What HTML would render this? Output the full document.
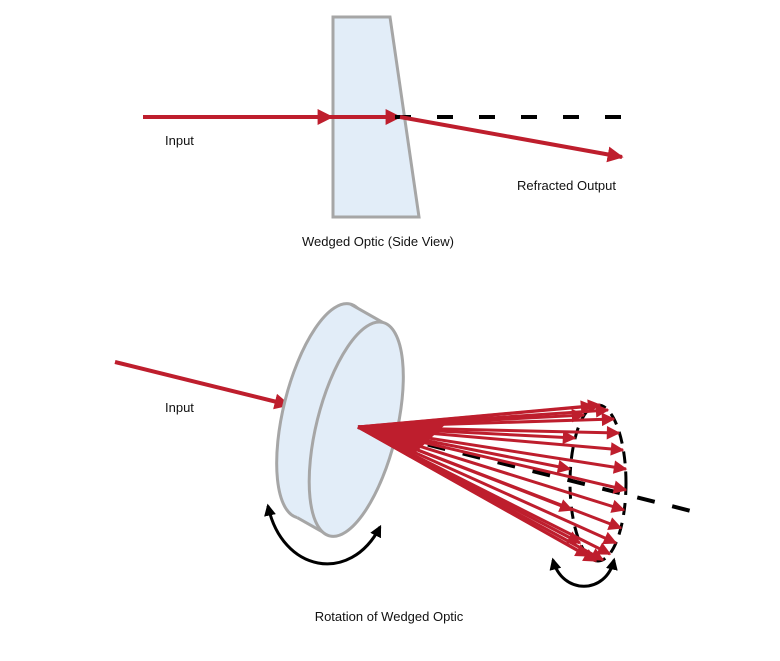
<!DOCTYPE html>
<html><head><meta charset="utf-8"><style>
html,body{margin:0;padding:0;background:#fff;}
svg{display:block}
text{font-family:"Liberation Sans",sans-serif;font-size:13px;fill:#111;}
</style></head><body>
<svg width="780" height="661" viewBox="0 0 780 661" xmlns="http://www.w3.org/2000/svg">
<defs>
<marker id="ah" viewBox="0 0 10 10" refX="9" refY="5" markerWidth="4" markerHeight="4" orient="auto" markerUnits="strokeWidth"><path d="M0,0 L10,5 L0,10 z" fill="#be1e2d"/></marker>
<marker id="ah2" viewBox="0 0 10 10" refX="9" refY="5" markerWidth="5.5" markerHeight="4.5" orient="auto" markerUnits="strokeWidth"><path d="M0,0 L10,5 L0,10 z" fill="#be1e2d"/></marker>
<marker id="bk" viewBox="0 0 10 10" refX="8" refY="5" markerWidth="4" markerHeight="4" orient="auto-start-reverse" markerUnits="strokeWidth"><path d="M0,0 L10,5 L0,10 z" fill="#000"/></marker>
</defs>
<!-- top -->
<polygon points="333,17 390,17 419,217 333,217" fill="#e2edf8" stroke="#a6a6a6" stroke-width="3"/>
<line x1="143" y1="117" x2="332" y2="117" stroke="#be1e2d" stroke-width="4" marker-end="url(#ah)"/>
<line x1="330" y1="117" x2="400" y2="117" stroke="#be1e2d" stroke-width="4" marker-end="url(#ah)"/>
<line x1="395" y1="117" x2="628" y2="117" stroke="#000" stroke-width="4" stroke-dasharray="16,26"/>
<line x1="400" y1="117" x2="622" y2="157" stroke="#be1e2d" stroke-width="4" marker-end="url(#ah)"/>
<text x="165" y="145">Input</text>
<text x="517" y="190">Refracted Output</text>
<text x="378" y="246" text-anchor="middle">Wedged Optic (Side View)</text>
<!-- bottom -->
<line x1="115" y1="362" x2="289" y2="405" stroke="#be1e2d" stroke-width="4" marker-end="url(#ah)"/>
<text x="165" y="412">Input</text>
<g transform="rotate(14 340 420)">
<ellipse cx="322" cy="415" rx="40" ry="110" fill="#e2edf8" stroke="#a6a6a6" stroke-width="3"/>
<polygon points="322,305 358,315 358,535 322,525" fill="#e2edf8"/>
<line x1="322" y1="305" x2="358" y2="315" stroke="#a6a6a6" stroke-width="3"/>
<line x1="322" y1="525" x2="358" y2="535" stroke="#a6a6a6" stroke-width="3"/>
<ellipse cx="358" cy="425" rx="40" ry="110" fill="#e2edf8" stroke="#a6a6a6" stroke-width="3"/>
</g>
<path d="M268,506 C282,572 350,585 380,527" fill="none" stroke="#000" stroke-width="3" marker-start="url(#bk)" marker-end="url(#bk)"/>
<path d="M553,560 C562,595 606,595 614,560" fill="none" stroke="#000" stroke-width="3" marker-start="url(#bk)" marker-end="url(#bk)"/>
<line x1="358" y1="427" x2="695" y2="512" stroke="#000" stroke-width="4" stroke-dasharray="18,18"/>
<ellipse cx="598" cy="483" rx="28" ry="78" fill="none" stroke="#000" stroke-width="3" stroke-dasharray="12,8"/>
<g stroke="#be1e2d" stroke-width="3" fill="none" marker-end="url(#ah2)">
<line x1="358" y1="427" x2="584" y2="415"/>
<line x1="358" y1="427" x2="575" y2="438"/>
<line x1="358" y1="427" x2="570" y2="469"/>
<line x1="358" y1="427" x2="572" y2="510"/>
<line x1="358" y1="427" x2="580" y2="543"/>
<line x1="358" y1="427" x2="593" y2="406"/>
<line x1="358" y1="427" x2="600" y2="405"/>
<line x1="358" y1="427" x2="608" y2="410"/>
<line x1="358" y1="427" x2="614" y2="419"/>
<line x1="358" y1="427" x2="619" y2="433"/>
<line x1="358" y1="427" x2="623" y2="450"/>
<line x1="358" y1="427" x2="626" y2="469"/>
<line x1="358" y1="427" x2="626" y2="490"/>
<line x1="358" y1="427" x2="624" y2="510"/>
<line x1="358" y1="427" x2="621" y2="528"/>
<line x1="358" y1="427" x2="616" y2="543"/>
<line x1="358" y1="427" x2="610" y2="554"/>
<line x1="358" y1="427" x2="603" y2="560"/>
<line x1="358" y1="427" x2="596" y2="561"/>
<line x1="358" y1="427" x2="588" y2="556"/>
</g>
<polygon points="358,427 450,420 410,458" fill="#be1e2d"/>
<text x="389" y="621" text-anchor="middle">Rotation of Wedged Optic</text>
</svg>
</body></html>
